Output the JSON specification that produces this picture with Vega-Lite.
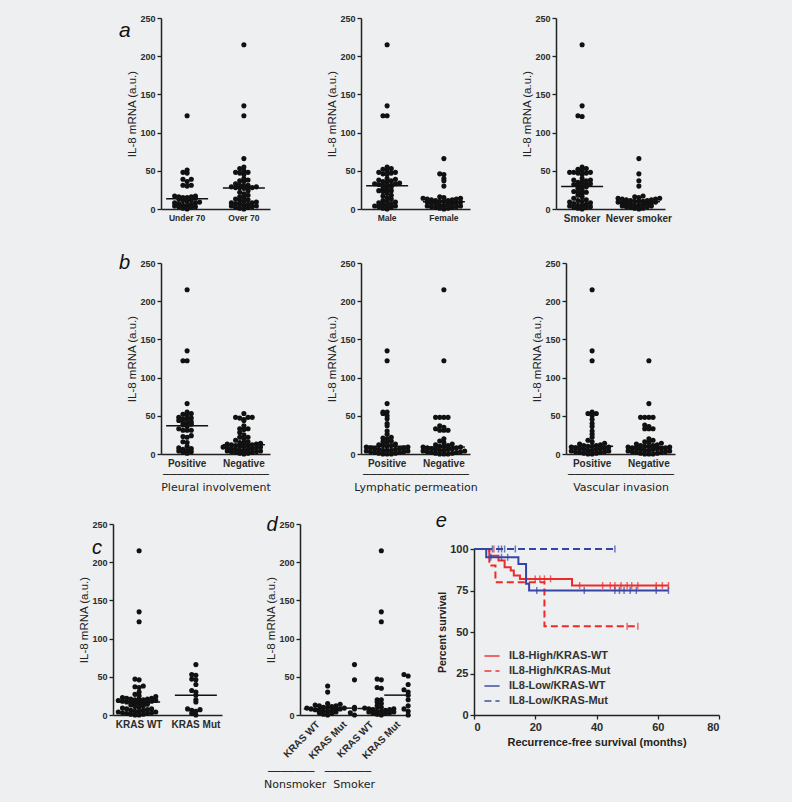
{
"$schema": "https://vega.github.io/schema/vega-lite/v6.json",
"background": "#edeff0",
"padding": {"left": 78, "top": 14, "right": 72, "bottom": 13},
"resolve": {"scale": {"color": "independent", "strokeDash": "independent"}, "legend": {"color": "independent", "strokeDash": "independent"}},
"datasets": {
"a1": [{"g":"Under 70","v":122},{"g":"Under 70","v":51},{"g":"Under 70","v":48},{"g":"Under 70","v":47},{"g":"Under 70","v":39},{"g":"Under 70","v":39},{"g":"Under 70","v":36},{"g":"Under 70","v":31},{"g":"Under 70","v":31},{"g":"Under 70","v":30},{"g":"Under 70","v":17},{"g":"Under 70","v":17},{"g":"Under 70","v":16},{"g":"Under 70","v":16},{"g":"Under 70","v":15},{"g":"Under 70","v":15},{"g":"Under 70","v":14},{"g":"Under 70","v":13},{"g":"Under 70","v":12},{"g":"Under 70","v":11},{"g":"Under 70","v":10},{"g":"Under 70","v":9},{"g":"Under 70","v":8},{"g":"Under 70","v":8},{"g":"Under 70","v":7},{"g":"Under 70","v":6},{"g":"Under 70","v":5},{"g":"Under 70","v":5},{"g":"Under 70","v":4},{"g":"Under 70","v":3},{"g":"Under 70","v":3},{"g":"Under 70","v":2},{"g":"Under 70","v":1},{"g":"Under 70","v":0},
{"g":"Over 70","v":215},{"g":"Over 70","v":135},{"g":"Over 70","v":122},{"g":"Over 70","v":66},{"g":"Over 70","v":55},{"g":"Over 70","v":53},{"g":"Over 70","v":50},{"g":"Over 70","v":48},{"g":"Over 70","v":48},{"g":"Over 70","v":47},{"g":"Over 70","v":45},{"g":"Over 70","v":40},{"g":"Over 70","v":38},{"g":"Over 70","v":37},{"g":"Over 70","v":36},{"g":"Over 70","v":33},{"g":"Over 70","v":31},{"g":"Over 70","v":31},{"g":"Over 70","v":30},{"g":"Over 70","v":29},{"g":"Over 70","v":29},{"g":"Over 70","v":28},{"g":"Over 70","v":28},{"g":"Over 70","v":28},{"g":"Over 70","v":28},{"g":"Over 70","v":27},{"g":"Over 70","v":24},{"g":"Over 70","v":22},{"g":"Over 70","v":20},{"g":"Over 70","v":18},{"g":"Over 70","v":16},{"g":"Over 70","v":15},{"g":"Over 70","v":13},{"g":"Over 70","v":12},{"g":"Over 70","v":11},{"g":"Over 70","v":10},{"g":"Over 70","v":9},{"g":"Over 70","v":8},{"g":"Over 70","v":8},{"g":"Over 70","v":7},{"g":"Over 70","v":6},{"g":"Over 70","v":6},{"g":"Over 70","v":5},{"g":"Over 70","v":4},{"g":"Over 70","v":4},{"g":"Over 70","v":3},{"g":"Over 70","v":2},{"g":"Over 70","v":2},{"g":"Over 70","v":1},{"g":"Over 70","v":0}],
"a2": [{"g":"Male","v":215},{"g":"Male","v":135},{"g":"Male","v":122},{"g":"Male","v":122},{"g":"Male","v":55},{"g":"Male","v":53},{"g":"Male","v":52},{"g":"Male","v":50},{"g":"Male","v":48},{"g":"Male","v":48},{"g":"Male","v":47},{"g":"Male","v":46},{"g":"Male","v":45},{"g":"Male","v":40},{"g":"Male","v":39},{"g":"Male","v":38},{"g":"Male","v":37},{"g":"Male","v":36},{"g":"Male","v":35},{"g":"Male","v":34},{"g":"Male","v":33},{"g":"Male","v":33},{"g":"Male","v":32},{"g":"Male","v":31},{"g":"Male","v":31},{"g":"Male","v":30},{"g":"Male","v":29},{"g":"Male","v":27},{"g":"Male","v":25},{"g":"Male","v":24},{"g":"Male","v":24},{"g":"Male","v":23},{"g":"Male","v":21},{"g":"Male","v":18},{"g":"Male","v":17},{"g":"Male","v":15},{"g":"Male","v":13},{"g":"Male","v":11},{"g":"Male","v":10},{"g":"Male","v":9},{"g":"Male","v":8},{"g":"Male","v":7},{"g":"Male","v":6},{"g":"Male","v":5},{"g":"Male","v":4},{"g":"Male","v":4},{"g":"Male","v":3},{"g":"Male","v":2},{"g":"Male","v":1},{"g":"Male","v":0},
{"g":"Female","v":66},{"g":"Female","v":46},{"g":"Female","v":45},{"g":"Female","v":40},{"g":"Female","v":37},{"g":"Female","v":30},{"g":"Female","v":16},{"g":"Female","v":15},{"g":"Female","v":14},{"g":"Female","v":14},{"g":"Female","v":13},{"g":"Female","v":13},{"g":"Female","v":12},{"g":"Female","v":12},{"g":"Female","v":11},{"g":"Female","v":11},{"g":"Female","v":10},{"g":"Female","v":10},{"g":"Female","v":9},{"g":"Female","v":9},{"g":"Female","v":8},{"g":"Female","v":8},{"g":"Female","v":7},{"g":"Female","v":7},{"g":"Female","v":6},{"g":"Female","v":5},{"g":"Female","v":5},{"g":"Female","v":4},{"g":"Female","v":4},{"g":"Female","v":3},{"g":"Female","v":3},{"g":"Female","v":2},{"g":"Female","v":2},{"g":"Female","v":1},{"g":"Female","v":1},{"g":"Female","v":0}],
"a3": [{"g":"Smoker","v":215},{"g":"Smoker","v":135},{"g":"Smoker","v":122},{"g":"Smoker","v":121},{"g":"Smoker","v":55},{"g":"Smoker","v":53},{"g":"Smoker","v":52},{"g":"Smoker","v":50},{"g":"Smoker","v":48},{"g":"Smoker","v":48},{"g":"Smoker","v":48},{"g":"Smoker","v":47},{"g":"Smoker","v":47},{"g":"Smoker","v":45},{"g":"Smoker","v":40},{"g":"Smoker","v":38},{"g":"Smoker","v":38},{"g":"Smoker","v":37},{"g":"Smoker","v":35},{"g":"Smoker","v":35},{"g":"Smoker","v":33},{"g":"Smoker","v":32},{"g":"Smoker","v":32},{"g":"Smoker","v":31},{"g":"Smoker","v":30},{"g":"Smoker","v":29},{"g":"Smoker","v":27},{"g":"Smoker","v":25},{"g":"Smoker","v":23},{"g":"Smoker","v":22},{"g":"Smoker","v":22},{"g":"Smoker","v":20},{"g":"Smoker","v":18},{"g":"Smoker","v":16},{"g":"Smoker","v":14},{"g":"Smoker","v":12},{"g":"Smoker","v":11},{"g":"Smoker","v":10},{"g":"Smoker","v":9},{"g":"Smoker","v":8},{"g":"Smoker","v":7},{"g":"Smoker","v":6},{"g":"Smoker","v":5},{"g":"Smoker","v":5},{"g":"Smoker","v":4},{"g":"Smoker","v":3},{"g":"Smoker","v":2},{"g":"Smoker","v":2},{"g":"Smoker","v":1},{"g":"Smoker","v":0},
{"g":"Never smoker","v":66},{"g":"Never smoker","v":46},{"g":"Never smoker","v":37},{"g":"Never smoker","v":30},{"g":"Never smoker","v":17},{"g":"Never smoker","v":16},{"g":"Never smoker","v":15},{"g":"Never smoker","v":14},{"g":"Never smoker","v":14},{"g":"Never smoker","v":13},{"g":"Never smoker","v":13},{"g":"Never smoker","v":12},{"g":"Never smoker","v":12},{"g":"Never smoker","v":11},{"g":"Never smoker","v":11},{"g":"Never smoker","v":10},{"g":"Never smoker","v":10},{"g":"Never smoker","v":10},{"g":"Never smoker","v":9},{"g":"Never smoker","v":9},{"g":"Never smoker","v":8},{"g":"Never smoker","v":8},{"g":"Never smoker","v":7},{"g":"Never smoker","v":7},{"g":"Never smoker","v":6},{"g":"Never smoker","v":6},{"g":"Never smoker","v":5},{"g":"Never smoker","v":5},{"g":"Never smoker","v":4},{"g":"Never smoker","v":4},{"g":"Never smoker","v":3},{"g":"Never smoker","v":3},{"g":"Never smoker","v":2},{"g":"Never smoker","v":1},{"g":"Never smoker","v":1},{"g":"Never smoker","v":0}],
"b1": [{"g":"Positive","v":215},{"g":"Positive","v":135},{"g":"Positive","v":122},{"g":"Positive","v":122},{"g":"Positive","v":66},{"g":"Positive","v":55},{"g":"Positive","v":53},{"g":"Positive","v":52},{"g":"Positive","v":50},{"g":"Positive","v":48},{"g":"Positive","v":47},{"g":"Positive","v":46},{"g":"Positive","v":45},{"g":"Positive","v":44},{"g":"Positive","v":42},{"g":"Positive","v":41},{"g":"Positive","v":40},{"g":"Positive","v":39},{"g":"Positive","v":38},{"g":"Positive","v":36},{"g":"Positive","v":33},{"g":"Positive","v":31},{"g":"Positive","v":31},{"g":"Positive","v":31},{"g":"Positive","v":24},{"g":"Positive","v":23},{"g":"Positive","v":22},{"g":"Positive","v":16},{"g":"Positive","v":15},{"g":"Positive","v":10},{"g":"Positive","v":8},{"g":"Positive","v":7},{"g":"Positive","v":6},{"g":"Positive","v":5},{"g":"Positive","v":4},{"g":"Positive","v":3},{"g":"Positive","v":2},{"g":"Positive","v":1},
{"g":"Negative","v":53},{"g":"Negative","v":48},{"g":"Negative","v":48},{"g":"Negative","v":48},{"g":"Negative","v":47},{"g":"Negative","v":45},{"g":"Negative","v":44},{"g":"Negative","v":37},{"g":"Negative","v":33},{"g":"Negative","v":33},{"g":"Negative","v":32},{"g":"Negative","v":28},{"g":"Negative","v":25},{"g":"Negative","v":22},{"g":"Negative","v":22},{"g":"Negative","v":20},{"g":"Negative","v":18},{"g":"Negative","v":16},{"g":"Negative","v":15},{"g":"Negative","v":15},{"g":"Negative","v":14},{"g":"Negative","v":13},{"g":"Negative","v":13},{"g":"Negative","v":12},{"g":"Negative","v":12},{"g":"Negative","v":11},{"g":"Negative","v":11},{"g":"Negative","v":10},{"g":"Negative","v":10},{"g":"Negative","v":9},{"g":"Negative","v":9},{"g":"Negative","v":8},{"g":"Negative","v":8},{"g":"Negative","v":7},{"g":"Negative","v":7},{"g":"Negative","v":6},{"g":"Negative","v":6},{"g":"Negative","v":5},{"g":"Negative","v":5},{"g":"Negative","v":4},{"g":"Negative","v":4},{"g":"Negative","v":3},{"g":"Negative","v":3},{"g":"Negative","v":2},{"g":"Negative","v":2},{"g":"Negative","v":1},{"g":"Negative","v":1},{"g":"Negative","v":0}],
"b2": [{"g":"Positive","v":135},{"g":"Positive","v":122},{"g":"Positive","v":66},{"g":"Positive","v":55},{"g":"Positive","v":55},{"g":"Positive","v":53},{"g":"Positive","v":50},{"g":"Positive","v":46},{"g":"Positive","v":40},{"g":"Positive","v":37},{"g":"Positive","v":30},{"g":"Positive","v":26},{"g":"Positive","v":22},{"g":"Positive","v":21},{"g":"Positive","v":20},{"g":"Positive","v":17},{"g":"Positive","v":16},{"g":"Positive","v":15},{"g":"Positive","v":13},{"g":"Positive","v":12},{"g":"Positive","v":11},{"g":"Positive","v":11},{"g":"Positive","v":10},{"g":"Positive","v":9},{"g":"Positive","v":9},{"g":"Positive","v":8},{"g":"Positive","v":8},{"g":"Positive","v":7},{"g":"Positive","v":7},{"g":"Positive","v":6},{"g":"Positive","v":6},{"g":"Positive","v":5},{"g":"Positive","v":5},{"g":"Positive","v":5},{"g":"Positive","v":4},{"g":"Positive","v":4},{"g":"Positive","v":3},{"g":"Positive","v":3},{"g":"Positive","v":2},{"g":"Positive","v":2},{"g":"Positive","v":1},{"g":"Positive","v":1},{"g":"Positive","v":0},{"g":"Positive","v":0},{"g":"Positive","v":0},
{"g":"Negative","v":215},{"g":"Negative","v":122},{"g":"Negative","v":48},{"g":"Negative","v":48},{"g":"Negative","v":48},{"g":"Negative","v":48},{"g":"Negative","v":37},{"g":"Negative","v":35},{"g":"Negative","v":33},{"g":"Negative","v":31},{"g":"Negative","v":31},{"g":"Negative","v":31},{"g":"Negative","v":20},{"g":"Negative","v":17},{"g":"Negative","v":15},{"g":"Negative","v":13},{"g":"Negative","v":12},{"g":"Negative","v":11},{"g":"Negative","v":10},{"g":"Negative","v":10},{"g":"Negative","v":9},{"g":"Negative","v":9},{"g":"Negative","v":8},{"g":"Negative","v":8},{"g":"Negative","v":7},{"g":"Negative","v":7},{"g":"Negative","v":6},{"g":"Negative","v":6},{"g":"Negative","v":5},{"g":"Negative","v":5},{"g":"Negative","v":4},{"g":"Negative","v":4},{"g":"Negative","v":3},{"g":"Negative","v":3},{"g":"Negative","v":2},{"g":"Negative","v":2},{"g":"Negative","v":1},{"g":"Negative","v":1},{"g":"Negative","v":0},{"g":"Negative","v":0},{"g":"Negative","v":0}],
"b3": [{"g":"Positive","v":215},{"g":"Positive","v":135},{"g":"Positive","v":122},{"g":"Positive","v":55},{"g":"Positive","v":53},{"g":"Positive","v":53},{"g":"Positive","v":50},{"g":"Positive","v":45},{"g":"Positive","v":40},{"g":"Positive","v":36},{"g":"Positive","v":30},{"g":"Positive","v":26},{"g":"Positive","v":22},{"g":"Positive","v":18},{"g":"Positive","v":16},{"g":"Positive","v":14},{"g":"Positive","v":13},{"g":"Positive","v":12},{"g":"Positive","v":11},{"g":"Positive","v":11},{"g":"Positive","v":10},{"g":"Positive","v":10},{"g":"Positive","v":9},{"g":"Positive","v":9},{"g":"Positive","v":8},{"g":"Positive","v":8},{"g":"Positive","v":7},{"g":"Positive","v":7},{"g":"Positive","v":6},{"g":"Positive","v":6},{"g":"Positive","v":5},{"g":"Positive","v":5},{"g":"Positive","v":4},{"g":"Positive","v":4},{"g":"Positive","v":3},{"g":"Positive","v":3},{"g":"Positive","v":2},{"g":"Positive","v":2},{"g":"Positive","v":1},{"g":"Positive","v":1},{"g":"Positive","v":0},{"g":"Positive","v":0},
{"g":"Negative","v":122},{"g":"Negative","v":66},{"g":"Negative","v":48},{"g":"Negative","v":48},{"g":"Negative","v":48},{"g":"Negative","v":48},{"g":"Negative","v":38},{"g":"Negative","v":36},{"g":"Negative","v":33},{"g":"Negative","v":33},{"g":"Negative","v":33},{"g":"Negative","v":20},{"g":"Negative","v":18},{"g":"Negative","v":16},{"g":"Negative","v":15},{"g":"Negative","v":14},{"g":"Negative","v":13},{"g":"Negative","v":12},{"g":"Negative","v":11},{"g":"Negative","v":11},{"g":"Negative","v":10},{"g":"Negative","v":10},{"g":"Negative","v":9},{"g":"Negative","v":9},{"g":"Negative","v":8},{"g":"Negative","v":8},{"g":"Negative","v":7},{"g":"Negative","v":7},{"g":"Negative","v":7},{"g":"Negative","v":6},{"g":"Negative","v":6},{"g":"Negative","v":5},{"g":"Negative","v":5},{"g":"Negative","v":4},{"g":"Negative","v":4},{"g":"Negative","v":3},{"g":"Negative","v":3},{"g":"Negative","v":2},{"g":"Negative","v":2},{"g":"Negative","v":1},{"g":"Negative","v":1},{"g":"Negative","v":0},{"g":"Negative","v":0},{"g":"Negative","v":0}],
"c": [{"g":"KRAS WT","v":215},{"g":"KRAS WT","v":135},{"g":"KRAS WT","v":122},{"g":"KRAS WT","v":47},{"g":"KRAS WT","v":46},{"g":"KRAS WT","v":38},{"g":"KRAS WT","v":37},{"g":"KRAS WT","v":36},{"g":"KRAS WT","v":30},{"g":"KRAS WT","v":27},{"g":"KRAS WT","v":25},{"g":"KRAS WT","v":24},{"g":"KRAS WT","v":23},{"g":"KRAS WT","v":22},{"g":"KRAS WT","v":22},{"g":"KRAS WT","v":21},{"g":"KRAS WT","v":21},{"g":"KRAS WT","v":20},{"g":"KRAS WT","v":20},{"g":"KRAS WT","v":20},{"g":"KRAS WT","v":19},{"g":"KRAS WT","v":19},{"g":"KRAS WT","v":18},{"g":"KRAS WT","v":18},{"g":"KRAS WT","v":17},{"g":"KRAS WT","v":17},{"g":"KRAS WT","v":17},{"g":"KRAS WT","v":16},{"g":"KRAS WT","v":15},{"g":"KRAS WT","v":15},{"g":"KRAS WT","v":14},{"g":"KRAS WT","v":13},{"g":"KRAS WT","v":12},{"g":"KRAS WT","v":11},{"g":"KRAS WT","v":10},{"g":"KRAS WT","v":9},{"g":"KRAS WT","v":8},{"g":"KRAS WT","v":8},{"g":"KRAS WT","v":7},{"g":"KRAS WT","v":6},{"g":"KRAS WT","v":6},{"g":"KRAS WT","v":5},{"g":"KRAS WT","v":5},{"g":"KRAS WT","v":4},{"g":"KRAS WT","v":4},{"g":"KRAS WT","v":3},{"g":"KRAS WT","v":3},{"g":"KRAS WT","v":2},{"g":"KRAS WT","v":2},{"g":"KRAS WT","v":1},{"g":"KRAS WT","v":1},{"g":"KRAS WT","v":0},{"g":"KRAS WT","v":0},
{"g":"KRAS Mut","v":66},{"g":"KRAS Mut","v":53},{"g":"KRAS Mut","v":52},{"g":"KRAS Mut","v":47},{"g":"KRAS Mut","v":46},{"g":"KRAS Mut","v":40},{"g":"KRAS Mut","v":32},{"g":"KRAS Mut","v":30},{"g":"KRAS Mut","v":26},{"g":"KRAS Mut","v":20},{"g":"KRAS Mut","v":17},{"g":"KRAS Mut","v":8},{"g":"KRAS Mut","v":7},{"g":"KRAS Mut","v":6},{"g":"KRAS Mut","v":5},{"g":"KRAS Mut","v":2},{"g":"KRAS Mut","v":0}],
"d": [{"g":"Nonsmoker KRAS WT","v":38},{"g":"Nonsmoker KRAS WT","v":30},{"g":"Nonsmoker KRAS WT","v":15},{"g":"Nonsmoker KRAS WT","v":14},{"g":"Nonsmoker KRAS WT","v":13},{"g":"Nonsmoker KRAS WT","v":12},{"g":"Nonsmoker KRAS WT","v":12},{"g":"Nonsmoker KRAS WT","v":11},{"g":"Nonsmoker KRAS WT","v":10},{"g":"Nonsmoker KRAS WT","v":10},{"g":"Nonsmoker KRAS WT","v":9},{"g":"Nonsmoker KRAS WT","v":9},{"g":"Nonsmoker KRAS WT","v":8},{"g":"Nonsmoker KRAS WT","v":8},{"g":"Nonsmoker KRAS WT","v":7},{"g":"Nonsmoker KRAS WT","v":7},{"g":"Nonsmoker KRAS WT","v":6},{"g":"Nonsmoker KRAS WT","v":6},{"g":"Nonsmoker KRAS WT","v":5},{"g":"Nonsmoker KRAS WT","v":5},{"g":"Nonsmoker KRAS WT","v":4},{"g":"Nonsmoker KRAS WT","v":3},{"g":"Nonsmoker KRAS WT","v":2},{"g":"Nonsmoker KRAS WT","v":1},{"g":"Nonsmoker KRAS WT","v":0},
{"g":"Nonsmoker KRAS Mut","v":66},{"g":"Nonsmoker KRAS Mut","v":46},{"g":"Nonsmoker KRAS Mut","v":10},{"g":"Nonsmoker KRAS Mut","v":8},{"g":"Nonsmoker KRAS Mut","v":3},{"g":"Nonsmoker KRAS Mut","v":0},
{"g":"Smoker KRAS WT","v":215},{"g":"Smoker KRAS WT","v":135},{"g":"Smoker KRAS WT","v":122},{"g":"Smoker KRAS WT","v":47},{"g":"Smoker KRAS WT","v":46},{"g":"Smoker KRAS WT","v":36},{"g":"Smoker KRAS WT","v":35},{"g":"Smoker KRAS WT","v":20},{"g":"Smoker KRAS WT","v":20},{"g":"Smoker KRAS WT","v":17},{"g":"Smoker KRAS WT","v":15},{"g":"Smoker KRAS WT","v":12},{"g":"Smoker KRAS WT","v":10},{"g":"Smoker KRAS WT","v":9},{"g":"Smoker KRAS WT","v":8},{"g":"Smoker KRAS WT","v":8},{"g":"Smoker KRAS WT","v":7},{"g":"Smoker KRAS WT","v":7},{"g":"Smoker KRAS WT","v":6},{"g":"Smoker KRAS WT","v":5},{"g":"Smoker KRAS WT","v":5},{"g":"Smoker KRAS WT","v":4},{"g":"Smoker KRAS WT","v":4},{"g":"Smoker KRAS WT","v":3},{"g":"Smoker KRAS WT","v":2},{"g":"Smoker KRAS WT","v":2},{"g":"Smoker KRAS WT","v":1},{"g":"Smoker KRAS WT","v":0},
{"g":"Smoker KRAS Mut","v":53},{"g":"Smoker KRAS Mut","v":51},{"g":"Smoker KRAS Mut","v":40},{"g":"Smoker KRAS Mut","v":33},{"g":"Smoker KRAS Mut","v":30},{"g":"Smoker KRAS Mut","v":26},{"g":"Smoker KRAS Mut","v":20},{"g":"Smoker KRAS Mut","v":12},{"g":"Smoker KRAS Mut","v":8},{"g":"Smoker KRAS Mut","v":5},{"g":"Smoker KRAS Mut","v":0}],
"km": [{"grp":"IL8-High/KRAS-WT","t":0,"s":100},{"grp":"IL8-High/KRAS-WT","t":5,"s":96},{"grp":"IL8-High/KRAS-WT","t":8,"s":93},{"grp":"IL8-High/KRAS-WT","t":10,"s":89},{"grp":"IL8-High/KRAS-WT","t":12,"s":87},{"grp":"IL8-High/KRAS-WT","t":13,"s":84},{"grp":"IL8-High/KRAS-WT","t":15,"s":82},{"grp":"IL8-High/KRAS-WT","t":32,"s":78},{"grp":"IL8-High/KRAS-WT","t":63.5,"s":78},
{"grp":"IL8-High/KRAS-Mut","t":0,"s":100},{"grp":"IL8-High/KRAS-Mut","t":5,"s":90},{"grp":"IL8-High/KRAS-Mut","t":7,"s":80},{"grp":"IL8-High/KRAS-Mut","t":23,"s":53.5},{"grp":"IL8-High/KRAS-Mut","t":53.5,"s":53.5},
{"grp":"IL8-Low/KRAS-WT","t":0,"s":100},{"grp":"IL8-Low/KRAS-WT","t":4,"s":95},{"grp":"IL8-Low/KRAS-WT","t":14.5,"s":91},{"grp":"IL8-Low/KRAS-WT","t":17,"s":79},{"grp":"IL8-Low/KRAS-WT","t":18,"s":75},{"grp":"IL8-Low/KRAS-WT","t":63.5,"s":75},
{"grp":"IL8-Low/KRAS-Mut","t":0,"s":100},{"grp":"IL8-Low/KRAS-Mut","t":46,"s":100}],
"cens": [{"grp":"IL8-High/KRAS-WT","t":20,"s":82},{"grp":"IL8-High/KRAS-WT","t":21.5,"s":82},{"grp":"IL8-High/KRAS-WT","t":23,"s":82},{"grp":"IL8-High/KRAS-WT","t":25,"s":82},{"grp":"IL8-High/KRAS-WT","t":34.5,"s":78},{"grp":"IL8-High/KRAS-WT","t":42,"s":78},{"grp":"IL8-High/KRAS-WT","t":44.5,"s":78},{"grp":"IL8-High/KRAS-WT","t":46,"s":78},{"grp":"IL8-High/KRAS-WT","t":48,"s":78},{"grp":"IL8-High/KRAS-WT","t":50,"s":78},{"grp":"IL8-High/KRAS-WT","t":51.5,"s":78},{"grp":"IL8-High/KRAS-WT","t":53.5,"s":78},{"grp":"IL8-High/KRAS-WT","t":59.5,"s":78},{"grp":"IL8-High/KRAS-WT","t":61.5,"s":78},{"grp":"IL8-High/KRAS-WT","t":63.5,"s":78},
{"grp":"IL8-Low/KRAS-WT","t":5.5,"s":95},{"grp":"IL8-Low/KRAS-WT","t":9,"s":95},{"grp":"IL8-Low/KRAS-WT","t":11,"s":95},{"grp":"IL8-Low/KRAS-WT","t":20.5,"s":75},{"grp":"IL8-Low/KRAS-WT","t":36,"s":75},{"grp":"IL8-Low/KRAS-WT","t":46,"s":75},{"grp":"IL8-Low/KRAS-WT","t":47.5,"s":75},{"grp":"IL8-Low/KRAS-WT","t":49,"s":75},{"grp":"IL8-Low/KRAS-WT","t":51,"s":75},{"grp":"IL8-Low/KRAS-WT","t":53,"s":75},{"grp":"IL8-Low/KRAS-WT","t":59.5,"s":75},{"grp":"IL8-Low/KRAS-WT","t":63.5,"s":75},
{"grp":"IL8-Low/KRAS-Mut","t":6,"s":100},{"grp":"IL8-Low/KRAS-Mut","t":8,"s":100},{"grp":"IL8-Low/KRAS-Mut","t":9,"s":100},{"grp":"IL8-Low/KRAS-Mut","t":10,"s":100},{"grp":"IL8-Low/KRAS-Mut","t":13.5,"s":100},{"grp":"IL8-Low/KRAS-Mut","t":46,"s":100},
{"grp":"IL8-High/KRAS-Mut","t":6.5,"s":100},{"grp":"IL8-High/KRAS-Mut","t":50,"s":53.5},{"grp":"IL8-High/KRAS-Mut","t":53.5,"s":53.5}]
},
"vconcat": [
{"vconcat": [
 {"hconcat": [
  {"width": 3, "height": 1, "data": {"values": [{}]}, "mark": {"type": "point", "opacity": 0}, "encoding": {}},
  {"hconcat": [
   {"hconcat": [
    {"width": 109, "height": 191, "title": {"text": "a", "dx": -8, "dy": 31, "fontSize": 21}, "data": {"name": "a1"},
     "transform": [{"bin": {"step": 5, "extent": [0, 255]}, "field": "v", "as": "vb"}, {"window": [{"op": "row_number", "as": "r"}], "groupby": ["g", "vb"], "sort": [{"field": "v"}]}],
     "layer": [
      {"mark": {"type": "circle", "size": 26, "color": "#111", "opacity": 1},
       "encoding": {
        "x": {"field": "g", "type": "nominal", "sort": ["Under 70", "Over 70"], "scale": {"paddingInner": 0.12, "paddingOuter": 0.02}, "axis": {"title": null, "ticks": false, "labelAngle": 0, "labelFontSize": 8.5, "labelPadding": 4}},
        "xOffset": {"field": "r", "type": "ordinal", "scale": {"domain": [12,10,8,6,4,2,1,3,5,7,9,11,13], "paddingInner": 0, "paddingOuter": 0}},
        "y": {"field": "v", "type": "quantitative", "scale": {"domain": [0, 250], "nice": false}, "axis": {"values": [0,50,100,150,200,250], "title": "IL-8 mRNA (a.u.)"}}}},
      {"mark": {"type": "tick", "size": 42, "thickness": 1.5, "color": "#111"},
       "encoding": {"x": {"field": "g", "type": "nominal", "sort": ["Under 70", "Over 70"]}, "y": {"aggregate": "median", "field": "v", "type": "quantitative", "axis": {"values": [0,50,100,150,200,250], "title": "IL-8 mRNA (a.u.)"}}}}]},
    {"width": 109, "height": 191, "data": {"name": "a2"},
     "transform": [{"bin": {"step": 5, "extent": [0, 255]}, "field": "v", "as": "vb"}, {"window": [{"op": "row_number", "as": "r"}], "groupby": ["g", "vb"], "sort": [{"field": "v"}]}],
     "layer": [
      {"mark": {"type": "circle", "size": 26, "color": "#111", "opacity": 1},
       "encoding": {
        "x": {"field": "g", "type": "nominal", "sort": ["Male", "Female"], "scale": {"paddingInner": 0.12, "paddingOuter": 0.02}, "axis": {"title": null, "ticks": false, "labelAngle": 0, "labelFontSize": 8.5, "labelPadding": 4}},
        "xOffset": {"field": "r", "type": "ordinal", "scale": {"domain": [12,10,8,6,4,2,1,3,5,7,9,11,13], "paddingInner": 0, "paddingOuter": 0}},
        "y": {"field": "v", "type": "quantitative", "scale": {"domain": [0, 250], "nice": false}, "axis": {"values": [0,50,100,150,200,250], "title": "IL-8 mRNA (a.u.)"}}}},
      {"mark": {"type": "tick", "size": 42, "thickness": 1.5, "color": "#111"},
       "encoding": {"x": {"field": "g", "type": "nominal", "sort": ["Male", "Female"]}, "y": {"aggregate": "median", "field": "v", "type": "quantitative", "axis": {"values": [0,50,100,150,200,250], "title": "IL-8 mRNA (a.u.)"}}}}]}
   ], "spacing": 56},
   {"width": 109, "height": 191, "data": {"name": "a3"},
    "transform": [{"bin": {"step": 5, "extent": [0, 255]}, "field": "v", "as": "vb"}, {"window": [{"op": "row_number", "as": "r"}], "groupby": ["g", "vb"], "sort": [{"field": "v"}]}],
    "layer": [
     {"mark": {"type": "circle", "size": 26, "color": "#111", "opacity": 1},
      "encoding": {
       "x": {"field": "g", "type": "nominal", "sort": ["Smoker", "Never smoker"], "scale": {"paddingInner": 0.12, "paddingOuter": 0.02}, "axis": {"title": null, "ticks": false, "labelAngle": 0, "labelFontSize": 10, "labelPadding": 4}},
       "xOffset": {"field": "r", "type": "ordinal", "scale": {"domain": [12,10,8,6,4,2,1,3,5,7,9,11,13], "paddingInner": 0, "paddingOuter": 0}},
       "y": {"field": "v", "type": "quantitative", "scale": {"domain": [0, 250], "nice": false}, "axis": {"values": [0,50,100,150,200,250], "title": "IL-8 mRNA (a.u.)"}}}},
     {"mark": {"type": "tick", "size": 42, "thickness": 1.5, "color": "#111"},
      "encoding": {"x": {"field": "g", "type": "nominal", "sort": ["Smoker", "Never smoker"]}, "y": {"aggregate": "median", "field": "v", "type": "quantitative", "axis": {"values": [0,50,100,150,200,250], "title": "IL-8 mRNA (a.u.)"}}}}]}
  ], "spacing": 51}
 ], "spacing": 0},
 {"hconcat": [
  {"width": 3, "height": 1, "data": {"values": [{}]}, "mark": {"type": "point", "opacity": 0}, "encoding": {}},
  {"hconcat": [
   {"hconcat": [
    {"width": 109, "height": 191, "title": {"text": "b", "dx": -8, "dy": 18}, "data": {"name": "b1"},
     "transform": [{"bin": {"step": 5, "extent": [0, 255]}, "field": "v", "as": "vb"}, {"window": [{"op": "row_number", "as": "r"}], "groupby": ["g", "vb"], "sort": [{"field": "v"}]}],
     "layer": [
      {"mark": {"type": "circle", "size": 26, "color": "#111", "opacity": 1},
       "encoding": {
        "x": {"field": "g", "type": "nominal", "sort": ["Positive", "Negative"], "scale": {"paddingInner": 0.12, "paddingOuter": 0.02}, "axis": {"title": ["\u2500\u2500\u2500\u2500\u2500\u2500\u2500\u2500\u2500\u2500\u2500\u2500\u2500\u2500\u2500\u2500", "Pleural involvement"], "titleFont": "DejaVu Sans", "titleFontSize": 11, "titleLineHeight": 13, "titlePadding": 0, "ticks": false, "labelAngle": 0, "labelFontSize": 10, "labelPadding": 4}},
        "xOffset": {"field": "r", "type": "ordinal", "scale": {"domain": [12,10,8,6,4,2,1,3,5,7,9,11,13], "paddingInner": 0, "paddingOuter": 0}},
        "y": {"field": "v", "type": "quantitative", "scale": {"domain": [0, 250], "nice": false}, "axis": {"values": [0,50,100,150,200,250], "title": "IL-8 mRNA (a.u.)"}}}},
      {"mark": {"type": "tick", "size": 42, "thickness": 1.5, "color": "#111"},
       "encoding": {"x": {"field": "g", "type": "nominal", "sort": ["Positive", "Negative"]}, "y": {"aggregate": "median", "field": "v", "type": "quantitative", "axis": {"values": [0,50,100,150,200,250], "title": "IL-8 mRNA (a.u.)"}}}}]},
    {"width": 109, "height": 191, "data": {"name": "b2"},
     "transform": [{"bin": {"step": 5, "extent": [0, 255]}, "field": "v", "as": "vb"}, {"window": [{"op": "row_number", "as": "r"}], "groupby": ["g", "vb"], "sort": [{"field": "v"}]}],
     "layer": [
      {"mark": {"type": "circle", "size": 26, "color": "#111", "opacity": 1},
       "encoding": {
        "x": {"field": "g", "type": "nominal", "sort": ["Positive", "Negative"], "scale": {"paddingInner": 0.12, "paddingOuter": 0.02}, "axis": {"title": ["\u2500\u2500\u2500\u2500\u2500\u2500\u2500\u2500\u2500\u2500\u2500\u2500\u2500\u2500\u2500\u2500", "Lymphatic permeation"], "titleFont": "DejaVu Sans", "titleFontSize": 11, "titleLineHeight": 13, "titlePadding": 0, "ticks": false, "labelAngle": 0, "labelFontSize": 10, "labelPadding": 4}},
        "xOffset": {"field": "r", "type": "ordinal", "scale": {"domain": [12,10,8,6,4,2,1,3,5,7,9,11,13], "paddingInner": 0, "paddingOuter": 0}},
        "y": {"field": "v", "type": "quantitative", "scale": {"domain": [0, 250], "nice": false}, "axis": {"values": [0,50,100,150,200,250], "title": "IL-8 mRNA (a.u.)"}}}},
      {"mark": {"type": "tick", "size": 42, "thickness": 1.5, "color": "#111"},
       "encoding": {"x": {"field": "g", "type": "nominal", "sort": ["Positive", "Negative"]}, "y": {"aggregate": "median", "field": "v", "type": "quantitative", "axis": {"values": [0,50,100,150,200,250], "title": "IL-8 mRNA (a.u.)"}}}}]}
   ], "spacing": 55},
   {"width": 109, "height": 191, "data": {"name": "b3"},
    "transform": [{"bin": {"step": 5, "extent": [0, 255]}, "field": "v", "as": "vb"}, {"window": [{"op": "row_number", "as": "r"}], "groupby": ["g", "vb"], "sort": [{"field": "v"}]}],
    "layer": [
     {"mark": {"type": "circle", "size": 26, "color": "#111", "opacity": 1},
      "encoding": {
       "x": {"field": "g", "type": "nominal", "sort": ["Positive", "Negative"], "scale": {"paddingInner": 0.12, "paddingOuter": 0.02}, "axis": {"title": ["\u2500\u2500\u2500\u2500\u2500\u2500\u2500\u2500\u2500\u2500\u2500\u2500\u2500\u2500\u2500\u2500", "Vascular invasion"], "titleFont": "DejaVu Sans", "titleFontSize": 11, "titleLineHeight": 13, "titlePadding": 0, "ticks": false, "labelAngle": 0, "labelFontSize": 10, "labelPadding": 4}},
       "xOffset": {"field": "r", "type": "ordinal", "scale": {"domain": [12,10,8,6,4,2,1,3,5,7,9,11,13], "paddingInner": 0, "paddingOuter": 0}},
       "y": {"field": "v", "type": "quantitative", "scale": {"domain": [0, 250], "nice": false}, "axis": {"values": [0,50,100,150,200,250], "title": "IL-8 mRNA (a.u.)"}}}},
     {"mark": {"type": "tick", "size": 42, "thickness": 1.5, "color": "#111"},
      "encoding": {"x": {"field": "g", "type": "nominal", "sort": ["Positive", "Negative"]}, "y": {"aggregate": "median", "field": "v", "type": "quantitative", "axis": {"values": [0,50,100,150,200,250], "title": "IL-8 mRNA (a.u.)"}}}}]}
  ], "spacing": 53}
 ], "spacing": 0}
], "spacing": 30},
{"hconcat": [
 {"hconcat": [
  {"width": 109, "height": 191, "title": {"text": "c", "dx": 13, "dy": 42}, "data": {"name": "c"},
   "transform": [{"bin": {"step": 5, "extent": [0, 255]}, "field": "v", "as": "vb"}, {"window": [{"op": "row_number", "as": "r"}], "groupby": ["g", "vb"], "sort": [{"field": "v"}]}],
   "layer": [
    {"mark": {"type": "circle", "size": 26, "color": "#111", "opacity": 1},
     "encoding": {
      "x": {"field": "g", "type": "nominal", "sort": ["KRAS WT", "KRAS Mut"], "scale": {"paddingInner": 0.12, "paddingOuter": 0.02}, "axis": {"title": null, "ticks": false, "labelAngle": 0, "labelFontSize": 10, "labelPadding": 4}},
      "xOffset": {"field": "r", "type": "ordinal", "scale": {"domain": [12,10,8,6,4,2,1,3,5,7,9,11,13], "paddingInner": 0, "paddingOuter": 0}},
      "y": {"field": "v", "type": "quantitative", "scale": {"domain": [0, 250], "nice": false}, "axis": {"values": [0,50,100,150,200,250], "title": "IL-8 mRNA (a.u.)"}}}},
    {"mark": {"type": "tick", "size": 42, "thickness": 1.5, "color": "#111"},
     "encoding": {"x": {"field": "g", "type": "nominal", "sort": ["KRAS WT", "KRAS Mut"]}, "y": {"aggregate": "median", "field": "v", "type": "quantitative", "axis": {"values": [0,50,100,150,200,250], "title": "IL-8 mRNA (a.u.)"}}}}]},
  {"width": 110, "height": 191, "title": {"text": "d", "dx": 3, "dy": 19}, "data": {"name": "d"},
   "transform": [{"bin": {"step": 5, "extent": [0, 255]}, "field": "v", "as": "vb"}, {"window": [{"op": "row_number", "as": "r"}], "groupby": ["g", "vb"], "sort": [{"field": "v"}]}],
   "layer": [
    {"mark": {"type": "circle", "size": 26, "color": "#111", "opacity": 1},
     "encoding": {
      "x": {"field": "g", "type": "nominal", "sort": ["Nonsmoker KRAS WT", "Nonsmoker KRAS Mut", "Smoker KRAS WT", "Smoker KRAS Mut"], "scale": {"paddingInner": 0.1, "paddingOuter": 0.1}, "axis": {"labelExpr": "replace(replace(datum.value, 'Nonsmoker ', ''), 'Smoker ', '')", "ticks": false, "labelAngle": -45, "labelFontSize": 10, "labelPadding": 4, "title": ["\u2500\u2500\u2500\u2500\u2500\u2500\u2500\u00a0\u00a0\u00a0\u2500\u2500\u2500\u2500\u2500\u2500\u2500", "Nonsmoker\u00a0\u00a0Smoker"], "titleFont": "DejaVu Sans", "titleFontSize": 11, "titleLineHeight": 13, "titleX": 19, "titleY": 50, "titleAlign": "center", "titleBaseline": "top"}},
      "xOffset": {"field": "r", "type": "ordinal", "scale": {"domain": [12,10,8,6,4,2,1,3,5,7,9,11,13], "paddingInner": 0, "paddingOuter": 0}},
      "y": {"field": "v", "type": "quantitative", "scale": {"domain": [0, 250], "nice": false}, "axis": {"values": [0,50,100,150,200,250], "title": "IL-8 mRNA (a.u.)"}}}},
    {"mark": {"type": "tick", "size": 22, "thickness": 1.5, "color": "#111"},
     "encoding": {"x": {"field": "g", "type": "nominal", "sort": ["Nonsmoker KRAS WT", "Nonsmoker KRAS Mut", "Smoker KRAS WT", "Smoker KRAS Mut"]}, "y": {"aggregate": "median", "field": "v", "type": "quantitative", "axis": {"values": [0,50,100,150,200,250], "title": "IL-8 mRNA (a.u.)"}}}}]}
 ], "spacing": 41},
 {"width": 245, "height": 191, "title": {"text": "e", "dx": -2, "dy": 11},
  "layer": [
   {"data": {"name": "km"},
    "mark": {"type": "line", "interpolate": "step-after", "strokeWidth": 2},
    "encoding": {
     "x": {"field": "t", "type": "quantitative", "scale": {"domain": [0, 80], "nice": false}, "axis": {"values": [0,20,40,60,80], "title": "Recurrence-free survival (months)", "labelFontSize": 11, "titleFontWeight": "bold", "titleFontSize": 11, "titlePadding": 4}},
     "y": {"field": "s", "type": "quantitative", "scale": {"domain": [0, 100], "range": [191, 25], "nice": false}, "axis": {"values": [0,25,50,75,100], "title": "Percent survival", "labelFontSize": 11, "titleFontWeight": "bold", "titleFontSize": 10.5}},
     "color": {"field": "grp", "type": "nominal", "scale": {"domain": ["IL8-High/KRAS-WT", "IL8-High/KRAS-Mut", "IL8-Low/KRAS-WT", "IL8-Low/KRAS-Mut"], "range": ["#ee2b2b", "#ee2b2b", "#3545a5", "#3545a5"]},
      "legend": {"title": null, "orient": "bottom-left", "offset": 9, "symbolType": "stroke", "symbolStrokeWidth": 2, "symbolSize": 230, "labelFont": "Liberation Sans", "labelFontWeight": "bold", "labelFontSize": 11, "labelColor": "#333", "rowPadding": 1, "padding": 0, "labelOffset": 8}},
     "strokeDash": {"field": "grp", "type": "nominal", "scale": {"domain": ["IL8-High/KRAS-WT", "IL8-High/KRAS-Mut", "IL8-Low/KRAS-WT", "IL8-Low/KRAS-Mut"], "range": [[1, 0], [7, 4], [1, 0], [7, 4]]},
      "legend": {"title": null, "orient": "bottom-left", "offset": 9, "symbolType": "stroke", "symbolStrokeWidth": 2, "symbolSize": 230, "labelFont": "Liberation Sans", "labelFontWeight": "bold", "labelFontSize": 11, "labelColor": "#333", "rowPadding": 1, "padding": 0, "labelOffset": 8}}}},
   {"data": {"name": "cens"},
    "mark": {"type": "tick", "orient": "vertical", "size": 7, "thickness": 1.5},
    "encoding": {
     "x": {"field": "t", "type": "quantitative"},
     "y": {"field": "s", "type": "quantitative"},
     "color": {"field": "grp", "type": "nominal"}}}]}
], "spacing": 24, "resolve": {"scale": {"color": "independent", "strokeDash": "independent"}, "legend": {"color": "independent", "strokeDash": "independent"}}}
],
"spacing": 19,
"config": {
 "view": {"stroke": null},
 "font": "Liberation Sans",
 "axis": {"grid": false, "labelOverlap": false, "labelFont": "Liberation Sans", "labelFontWeight": "bold", "labelFontSize": 9, "labelColor": "#2b2b2b", "titleFont": "Liberation Sans", "titleFontWeight": "normal", "titleFontSize": 11.5, "titleColor": "#222", "titlePadding": 2, "domainColor": "#222", "domainWidth": 1.5, "tickColor": "#222", "tickWidth": 1.3, "tickSize": 4, "labelPadding": 2},
 "title": {"font": "Liberation Sans", "fontSize": 20, "fontStyle": "italic", "fontWeight": "normal", "anchor": "start", "frame": "bounds", "baseline": "alphabetic", "offset": 0, "color": "#111"}
}
}
